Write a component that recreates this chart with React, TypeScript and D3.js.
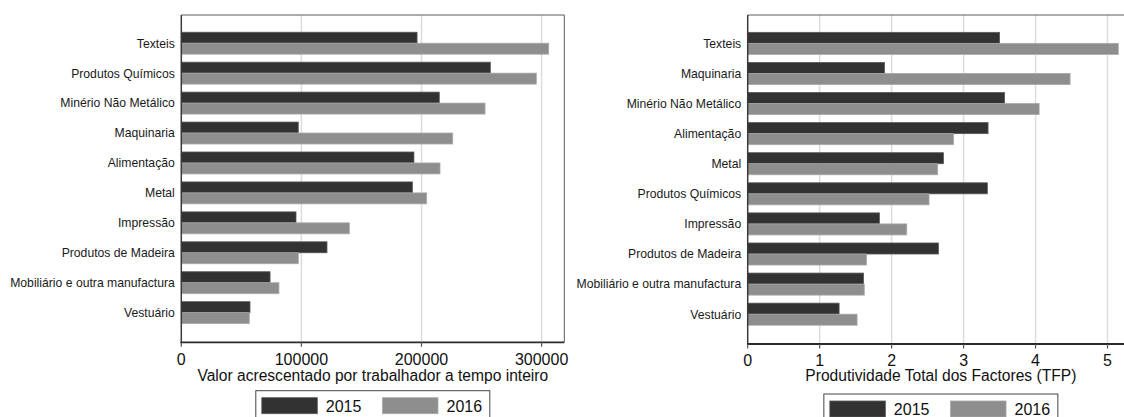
import React from "react";
import * as d3 from "d3";

const leftCategories = [
  "Texteis",
  "Produtos Químicos",
  "Minério Não Metálico",
  "Maquinaria",
  "Alimentação",
  "Metal",
  "Impressão",
  "Produtos de Madeira",
  "Mobiliário e outra manufactura",
  "Vestuário",
];
const left2015 = [196300, 257300, 214800, 97400, 193700, 192400, 95500, 121300, 73900, 57200];
const left2016 = [305900, 295600, 252900, 226000, 215400, 204300, 139900, 97400, 81300, 56600];
const leftTicks = [0, 100000, 200000, 300000];
const leftTitle = "Valor acrescentado por trabalhador a tempo inteiro";

const rightCategories = [
  "Texteis",
  "Maquinaria",
  "Minério Não Metálico",
  "Alimentação",
  "Metal",
  "Produtos Químicos",
  "Impressão",
  "Produtos de Madeira",
  "Mobiliário e outra manufactura",
  "Vestuário",
];
const right2015 = [3.5, 1.9, 3.57, 3.34, 2.72, 3.33, 1.83, 2.65, 1.61, 1.27];
const right2016 = [5.15, 4.48, 4.05, 2.86, 2.64, 2.52, 2.21, 1.65, 1.62, 1.52];
const rightTicks = [0, 1, 2, 3, 4, 5];
const rightTitle = "Produtividade Total dos Factores (TFP)";

const years = ["2015", "2016"];
const colors: Record<string, string> = { "2015": "#323232", "2016": "#8e8e8e" };
const strokes: Record<string, string> = { "2015": "#585858", "2016": "#a9a9a9" };

const FONT = "'Liberation Sans', Arial, Helvetica, sans-serif";

type PanelProps = {
  categories: string[];
  s2015: number[];
  s2016: number[];
  ticks: number[];
  title: string;
  domainMax: number;
  tickMax: number;
  x0: number;
  xTickMax: number;
  top: number;
  bottom: number;
  frameRight: number;
  tickLabelBaseline: number;
  titleBaseline: number;
  legendTop: number;
};

function Panel(p: PanelProps) {
  const x = d3.scaleLinear().domain([0, p.tickMax]).range([p.x0, p.xTickMax]);
  const frameRight = p.frameRight;
  const y = d3
    .scaleBand<string>()
    .domain(p.categories)
    .range([p.top, p.bottom])
    .paddingInner(0.267)
    .paddingOuter(0.6)
    .align(0.48);
  const sub = d3.scaleBand<string>().domain(years).range([0, y.bandwidth()]);
  const centerX = (p.x0 + frameRight) / 2;
  const fmt = d3.format("d");
  const series: Record<string, number[]> = { "2015": p.s2015, "2016": p.s2016 };
  const lgW = 234;
  const lgLeft = centerX - lgW / 2;

  return (
    <g>
      {p.ticks.slice(1).map((t) => (
        <line
          key={"g" + t}
          x1={x(t)}
          x2={x(t)}
          y1={p.top}
          y2={p.bottom}
          stroke="#dcdcdc"
          strokeWidth={1.5}
        />
      ))}
      <line x1={p.x0} x2={frameRight} y1={p.top} y2={p.top} stroke="#5a5a5a" strokeWidth={1} />
      <line x1={frameRight} x2={frameRight} y1={p.top} y2={p.bottom} stroke="#5a5a5a" strokeWidth={1} />
      {p.categories.map((c, i) => (
        <g key={c}>
          {years.map((yr) => (
            <rect
              key={yr}
              x={p.x0}
              y={(y(c) as number) + (sub(yr) as number)}
              width={x(series[yr][i]) - p.x0}
              height={sub.bandwidth()}
              fill={colors[yr]}
              stroke={strokes[yr]}
              strokeWidth={0.8}
            />
          ))}
          <text
            x={p.x0 - 6.5}
            y={(y(c) as number) + y.bandwidth() / 2}
            dy="0.36em"
            textAnchor="end"
            fontSize={12.2}
            fontFamily={FONT}
            fill="#1a1a1a"
          >
            {c}
          </text>
        </g>
      ))}
      <line x1={p.x0} x2={p.x0} y1={p.top} y2={p.bottom + 1} stroke="#3a3a3a" strokeWidth={1.5} />
      <line x1={p.x0 - 0.75} x2={frameRight} y1={p.bottom} y2={p.bottom} stroke="#2a2a2a" strokeWidth={1.8} />
      {p.ticks.map((t) => (
        <g key={"t" + t}>
          <line x1={x(t)} x2={x(t)} y1={p.bottom} y2={p.bottom + 4.5} stroke="#555" strokeWidth={1.2} />
          <text
            x={x(t)}
            y={p.tickLabelBaseline}
            textAnchor="middle"
            fontSize={16}
            fontFamily={FONT}
            fill="#111"
          >
            {fmt(t)}
          </text>
        </g>
      ))}
      <text
        x={centerX}
        y={p.titleBaseline}
        textAnchor="middle"
        fontSize={15.6}
        fontFamily={FONT}
        fill="#111"
      >
        {p.title}
      </text>
      <rect
        x={lgLeft}
        y={p.legendTop}
        width={lgW}
        height={40}
        fill="#fff"
        stroke="#444"
        strokeWidth={1}
      />
      {years.map((yr, k) => {
        const sx = lgLeft + 6 + k * 120.7;
        return (
          <g key={"lg" + yr}>
            <rect
              x={sx}
              y={p.legendTop + 7}
              width={55.5}
              height={16}
              fill={colors[yr]}
              stroke={strokes[yr]}
              strokeWidth={0.8}
            />
            <text
              x={sx + 64}
              y={p.legendTop + 21.3}
              fontSize={16}
              fontFamily={FONT}
              fill="#111"
            >
              {yr}
            </text>
          </g>
        );
      })}
    </g>
  );
}

export default function App() {
  return (
    <svg
      width={1124}
      height={417}
      style={{ position: "absolute", left: 0, top: 0, background: "#fff", overflow: "hidden" }}
    >
      <rect x={0} y={0} width={1124} height={417} fill="#fff" />
      <Panel
        categories={leftCategories}
        s2015={left2015}
        s2016={left2016}
        ticks={leftTicks}
        title={leftTitle}
        domainMax={319000}
        tickMax={300000}
        x0={181.3}
        xTickMax={541.6}
        top={15}
        bottom={342.3}
        frameRight={564.3}
        tickLabelBaseline={365}
        titleBaseline={380.5}
        legendTop={390.7}
      />
      <Panel
        categories={rightCategories}
        s2015={right2015}
        s2016={right2016}
        ticks={rightTicks}
        title={rightTitle}
        domainMax={5.37}
        tickMax={5}
        x0={747.7}
        xTickMax={1107.5}
        top={15}
        bottom={344}
        frameRight={1134}
        tickLabelBaseline={365.8}
        titleBaseline={381.3}
        legendTop={394}
      />
    </svg>
  );
}
